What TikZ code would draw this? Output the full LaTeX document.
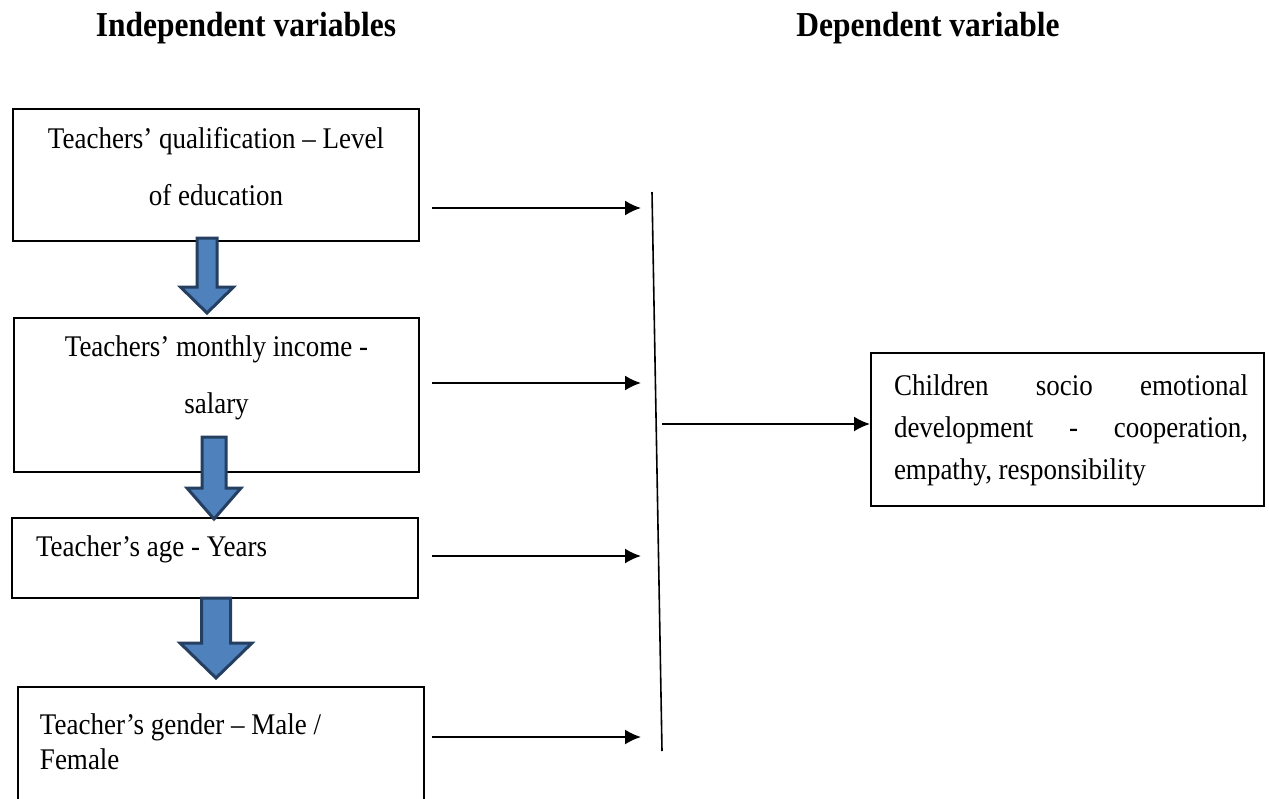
\documentclass[tikz,border=0pt]{standalone}
\usepackage{fontspec}
\setmainfont[FakeStretch=0.9]{Liberation Serif}
\usetikzlibrary{arrows.meta}
\definecolor{blockfill}{HTML}{4F81BD}
\definecolor{blockline}{HTML}{243F60}

\begin{document}
\begin{tikzpicture}[x=0.5pt, y=-0.5pt,
        main/.style = {draw, line width=1pt, inner sep=0pt, anchor=north west, font=\fontsize{15}{28.5}\selectfont},
        head/.style = {anchor=base, font=\bfseries\fontsize{17.5}{21}\selectfont},
        link/.style = {-{Latex[length=8pt,width=7.5pt]}, line width=1pt},
        block/.style = {draw=blockline, fill=blockfill, line width=1.5pt, line join=miter}]
    \useasboundingbox (0,0) rectangle (1269,798);

    % headings
    \node[head] (IV) at (246,36) {Independent variables};
    \node[head] (DV) at (928,36) {Dependent variable};

    % independent variables
    \node[main] (Q) at (12,108) {\parbox[t][66pt][t]{203pt}{\centering\vspace{9pt}Teachers’ qualification – Level\\of education}};
    \node[main] (I) at (13,317) {\parbox[t][77pt][t]{202.5pt}{\centering\vspace{9pt}Teachers’ monthly income -\\salary}};
    \node[main] (A) at (11,517) {\parbox[t][40pt][t]{203pt}{\vspace{9pt}\hspace*{12pt}Teacher’s age - Years}};
    \node[main, font=\fontsize{15}{17.5}\selectfont] (G) at (17,686) {\parbox[t][72pt][t]{203pt}{\vspace{13.3pt}\leftskip=11pt Teacher’s gender – Male /\\Female}};

    % dependent variable
    \node[main, font=\fontsize{15}{21}\selectfont] (D) at (870,352) {\parbox[t][76.5pt][t]{196.5pt}{\vspace{10.8pt}\leftskip=11.5pt\rightskip=8pt Children\hfill socio\hfill emotional\\development\hfill -\hfill cooperation,\\empathy, responsibility}};

    % block arrows between the boxes
    \draw[block] (197,238) -- (217,238) -- (217,287) -- (233.5,287) -- (207,313) -- (180.5,287) -- (197,287) -- cycle;
    \draw[block] (202,437) -- (226,437) -- (226,488) -- (241,488) -- (214,519) -- (187,488) -- (202,488) -- cycle;
    \draw[block] (201.5,598) -- (230.5,598) -- (230.5,643) -- (252,643) -- (216,678) -- (180,643) -- (201.5,643) -- cycle;

    % bar collecting the arrows
    \coordinate (T) at (652,192);
    \coordinate (B) at (662,751);
    \draw[line width=0.8pt] (T) -- (B);

    \coordinate (s1) at (432,208); \coordinate (e1) at (641,208);
    \coordinate (s2) at (432,383); \coordinate (e2) at (641,383);
    \coordinate (s3) at (432,556); \coordinate (e3) at (641,556);
    \coordinate (s4) at (432,737); \coordinate (e4) at (641,737);
    \coordinate (j) at (662,424);

    \path[link] (s1) edge (e1);
    \path[link] (s2) edge (e2);
    \path[link] (s3) edge (e3);
    \path[link] (s4) edge (e4);
    \path[link] (j) edge (j -| D.west);
\end{tikzpicture}
\end{document}
